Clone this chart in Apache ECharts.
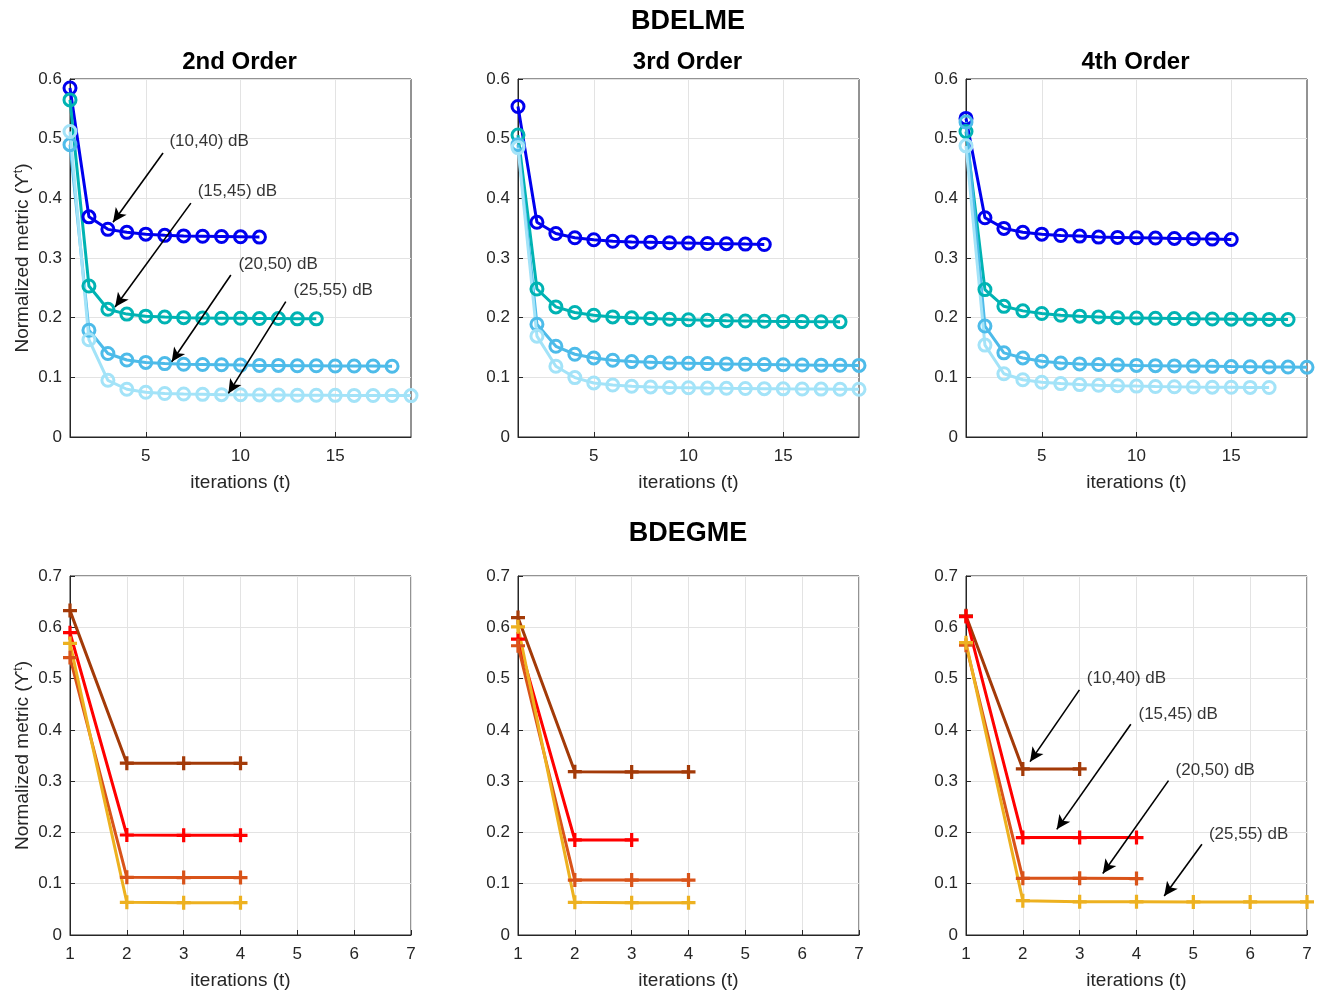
<!DOCTYPE html>
<html>
<head>
<meta charset="utf-8">
<script src="https://cdn.jsdelivr.net/npm/echarts@6/dist/echarts.min.js"></script>
<style>
  html, body { margin: 0; padding: 0; background: #fff; }
  #main { width: 1321px; height: 991px; }
</style>
</head>
<body>
<div id="main"></div>
<script>
var FONT = 'Liberation Sans, Arial, Helvetica, sans-serif';

// SNR pairs shared by all panels
var snrNames = ['(10,40) dB', '(15,45) dB', '(20,50) dB', '(25,55) dB'];

// BDELME (top row), one array per SNR pair, values at t = 1, 2, ...
var elme2_10 = [0.585, 0.369, 0.348, 0.343, 0.340, 0.338, 0.337, 0.3365, 0.336, 0.3355, 0.335];
var elme2_15 = [0.565, 0.253, 0.214, 0.206, 0.2025, 0.201, 0.200, 0.1995, 0.199, 0.199, 0.1985, 0.1985, 0.198, 0.198];
var elme2_20 = [0.490, 0.179, 0.140, 0.129, 0.125, 0.123, 0.122, 0.1215, 0.121, 0.1205, 0.120, 0.120, 0.1195, 0.1195, 0.119, 0.119, 0.119, 0.1185];
var elme2_25 = [0.512, 0.163, 0.095, 0.080, 0.075, 0.073, 0.072, 0.0715, 0.071, 0.0708, 0.0705, 0.0703, 0.070, 0.070, 0.0698, 0.0697, 0.0696, 0.0695, 0.0694];

var elme3_10 = [0.554, 0.360, 0.341, 0.334, 0.3305, 0.328, 0.327, 0.3266, 0.3255, 0.325, 0.3244, 0.324, 0.3233, 0.3227];
var elme3_15 = [0.506, 0.248, 0.218, 0.2086, 0.204, 0.2013, 0.1997, 0.1985, 0.1974, 0.1965, 0.1957, 0.195, 0.1945, 0.194, 0.1937, 0.1934, 0.1932, 0.193];
var elme3_20 = [0.490, 0.189, 0.152, 0.1387, 0.1325, 0.1286, 0.1264, 0.1253, 0.124, 0.1235, 0.123, 0.1225, 0.122, 0.1215, 0.121, 0.1207, 0.1204, 0.1202, 0.120];
var elme3_25 = [0.485, 0.169, 0.1186, 0.0996, 0.0906, 0.0872, 0.085, 0.0839, 0.083, 0.0825, 0.082, 0.0816, 0.0813, 0.081, 0.0807, 0.0805, 0.0803, 0.0801, 0.080];

var elme4_10 = [0.534, 0.3674, 0.3496, 0.343, 0.340, 0.3378, 0.3367, 0.335, 0.3345, 0.334, 0.3334, 0.3328, 0.3322, 0.3317, 0.331];
var elme4_15 = [0.512, 0.247, 0.219, 0.2114, 0.207, 0.204, 0.2025, 0.2013, 0.200, 0.1995, 0.199, 0.1985, 0.198, 0.1978, 0.1975, 0.1973, 0.1971, 0.197];
var elme4_20 = [0.528, 0.186, 0.141, 0.1325, 0.127, 0.124, 0.1225, 0.1214, 0.1207, 0.120, 0.1196, 0.1192, 0.1188, 0.1184, 0.118, 0.1177, 0.1174, 0.1172, 0.117];
var elme4_25 = [0.488, 0.154, 0.106, 0.096, 0.0917, 0.0895, 0.0878, 0.0868, 0.086, 0.0853, 0.0847, 0.0842, 0.0838, 0.0835, 0.0833, 0.0831, 0.083];

// BDEGME (bottom row)
var egme2_10 = [0.6325, 0.335, 0.3347, 0.3347];
var egme2_15 = [0.5894, 0.195, 0.1943, 0.1943];
var egme2_20 = [0.541, 0.1124, 0.112, 0.112];
var egme2_25 = [0.5686, 0.0637, 0.063, 0.063];

var egme3_10 = [0.619, 0.3185, 0.318, 0.318];
var egme3_15 = [0.577, 0.1853, 0.1853];
var egme3_20 = [0.564, 0.107, 0.107, 0.107];
var egme3_25 = [0.601, 0.0637, 0.063, 0.063];

var egme4_10 = [0.6225, 0.3237, 0.3237];
var egme4_15 = [0.621, 0.190, 0.190, 0.190];
var egme4_20 = [0.565, 0.1105, 0.1105, 0.110];
var egme4_25 = [0.570, 0.0669, 0.0648, 0.0648, 0.0645, 0.0644, 0.0644];

// annotation arrows in data coords: text anchor, arrow tail, arrow head
var arrowsTop = [
  { text: [6.25, 0.495], tail: [5.91, 0.476], head: [3.27, 0.360] },
  { text: [7.74, 0.411], tail: [7.38, 0.392], head: [3.38, 0.218] },
  { text: [9.89, 0.290], tail: [9.49, 0.2715], head: [6.37, 0.126] },
  { text: [12.8, 0.246], tail: [12.39, 0.227], head: [9.36, 0.073] }
];
var arrowsBottom = [
  { text: [3.125, 0.500], tail: [2.996, 0.478], head: [2.127, 0.338] },
  { text: [4.035, 0.431], tail: [3.90, 0.411], head: [2.597, 0.206] },
  { text: [4.687, 0.322], tail: [4.563, 0.301], head: [3.407, 0.120] },
  { text: [5.274, 0.196], tail: [5.151, 0.177], head: [4.487, 0.076] }
];

var topTicks = [5, 10, 15];
var blueColors = ['#0000ee', '#00b3b3', '#4dbbe9', '#a3e3f8'];
var warmColors = ['#a33a08', '#ff0000', '#d95319', '#edb120'];
var plusPath = 'path://M5,0H8V5H13V8H8V13H5V8H0V5H5Z';

var topPanels = [
  { title: '2nd Order', data: [elme2_10, elme2_15, elme2_20, elme2_25], arrows: arrowsTop },
  { title: '3rd Order', data: [elme3_10, elme3_15, elme3_20, elme3_25] },
  { title: '4th Order', data: [elme4_10, elme4_15, elme4_20, elme4_25] }
];
var bottomPanels = [
  { data: [egme2_10, egme2_15, egme2_20, egme2_25] },
  { data: [egme3_10, egme3_15, egme3_20, egme3_25] },
  { data: [egme4_10, egme4_15, egme4_20, egme4_25], arrows: arrowsBottom }
];

var lefts = [70, 518, 966];
var gridW = 341;

var chartDom = document.getElementById('main');
var myChart = echarts.init(chartDom);
var option;

var grids = [], xAxes = [], yAxes = [], series = [], titles = [];

titles.push({ text: 'BDELME', left: 688, top: 8, textAlign: 'center', padding: 0,
  textStyle: { fontFamily: FONT, fontSize: 27, fontWeight: 'bold', color: '#000' } });
titles.push({ text: 'BDEGME', left: 688, top: 520, textAlign: 'center', padding: 0,
  textStyle: { fontFamily: FONT, fontSize: 27, fontWeight: 'bold', color: '#000' } });

var yName = 'Normalized metric (ϒ{sup|t})';

function addPanel(idx, row, col, panel) {
  var top = row === 0 ? 79 : 576;
  var h = row === 0 ? 358 : 359;
  grids.push({ left: lefts[col], top: top, width: gridW, height: h,
    show: true, borderColor: '#262626', borderWidth: 1, backgroundColor: '#fff' });

  var xa = {
    type: 'value', gridIndex: idx,
    name: 'iterations (t)', nameLocation: 'middle', nameGap: 36,
    nameTextStyle: { fontFamily: FONT, fontSize: 19, color: '#262626' },
    axisLine: { show: true, onZero: false, lineStyle: { color: '#262626' } },
    axisTick: { show: true, inside: true, length: 5, lineStyle: { color: '#262626' } },
    axisLabel: { fontFamily: FONT, fontSize: 17, color: '#262626', margin: 11 },
    splitLine: { show: true, lineStyle: { color: '#e3e3e3' } }
  };
  if (row === 0) {
    xa.min = 1; xa.max = 19;
    xa.axisTick.customValues = topTicks;
    xa.axisLabel.customValues = topTicks;
  } else {
    xa.min = 1; xa.max = 7; xa.interval = 1;
  }
  xAxes.push(xa);

  var ya = {
    type: 'value', gridIndex: idx, min: 0, max: row === 0 ? 0.6 : 0.7, interval: 0.1,
    axisLine: { show: true, lineStyle: { color: '#262626' } },
    axisTick: { show: true, inside: true, length: 5, lineStyle: { color: '#262626' } },
    axisLabel: { fontFamily: FONT, fontSize: 17, color: '#262626', margin: 8 },
    splitLine: { show: true, lineStyle: { color: '#e3e3e3' } }
  };
  if (col === 0) {
    ya.name = yName;
    ya.nameLocation = 'middle';
    ya.nameGap = 38;
    ya.nameTextStyle = { fontFamily: FONT, fontSize: 19, color: '#262626',
      rich: { sup: { fontFamily: FONT, fontSize: 12, color: '#262626', verticalAlign: 'top', lineHeight: 12 } } };
  }
  yAxes.push(ya);

  if (panel.title) {
    titles.push({ text: panel.title, left: lefts[col] + gridW / 2 - 1, top: 50, textAlign: 'center', padding: 0,
      textStyle: { fontFamily: FONT, fontSize: 24, fontWeight: 'bold', color: '#000' } });
  }

  var colors = row === 0 ? blueColors : warmColors;
  panel.data.forEach(function (vals, k) {
    series.push({
      type: 'line', name: snrNames[k], xAxisIndex: idx, yAxisIndex: idx,
      data: vals.map(function (v, i) { return [i + 1, v]; }),
      symbol: row === 0 ? 'circle' : plusPath,
      symbolSize: row === 0 ? 12 : 14,
      showAllSymbol: true,
      lineStyle: { color: colors[k], width: 3 },
      itemStyle: row === 0
        ? { color: 'rgba(255,255,255,0)', borderColor: colors[k], borderWidth: 3 }
        : { color: colors[k] },
      emphasis: { disabled: true },
      z: 3
    });
  });

  if (panel.arrows) {
    series.push({
      type: 'scatter', xAxisIndex: idx, yAxisIndex: idx, symbolSize: 0, silent: true,
      data: panel.arrows.map(function (a, k) { return { name: snrNames[k], value: a.text }; }),
      label: { show: true, position: 'right', distance: 0, formatter: '{b}',
        fontFamily: FONT, fontSize: 17, color: '#000' },
      markLine: {
        silent: true, animation: false,
        symbol: ['none', 'arrow'], symbolSize: [10, 14],
        label: { show: false },
        itemStyle: { color: '#000' },
        lineStyle: { color: '#000', width: 1.6, type: 'solid' },
        data: panel.arrows.map(function (a) {
          return [
            { coord: a.tail, symbol: 'none' },
            { coord: a.head, symbol: 'arrow', symbolSize: [10, 14] }
          ];
        })
      },
      z: 5
    });
  }
}

topPanels.forEach(function (p, c) { addPanel(c, 0, c, p); });
bottomPanels.forEach(function (p, c) { addPanel(3 + c, 1, c, p); });

option = {
  backgroundColor: '#fff',
  animation: false,
  title: titles,
  grid: grids,
  xAxis: xAxes,
  yAxis: yAxes,
  series: series
};

option && myChart.setOption(option);
</script>
</body>
</html>
